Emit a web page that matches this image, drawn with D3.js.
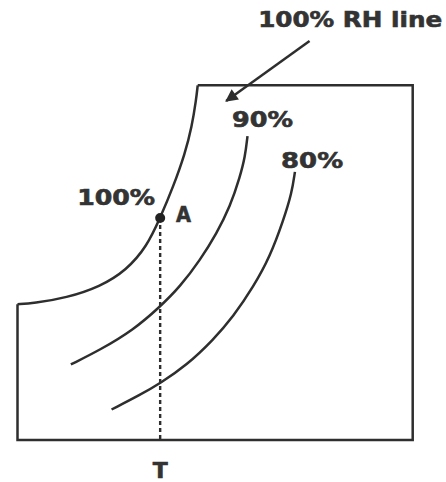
<!DOCTYPE html>
<html>

<head>
    <meta charset="utf-8">
    <title>Psychrometric sketch - dew point</title>
    <script type="text/javascript" src="https://d3js.org/d3.v7.min.js"></script>
    <style>
        body {
            margin: 0;
            background: #fff;
        }
        svg {
            display: block;
        }
    </style>
</head>

<body>
</body>

<script type="text/javascript">
    var w = 446;
    var h = 482;

    // curves, in chart units (0..100 both ways)
    var rh100 = [[0, 38.3], [4.0, 38.5], [12.4, 40.1], [20.9, 43.2], [27.6, 47.9], [32.7, 54.5],
        [36.1, 62.6], [39.4, 71.4], [42.4, 80.8], [44.1, 88.3], [45.2, 95.9], [45.6, 100]];
    var rh90 = [[13.5, 21.3], [20.9, 25.4], [29.3, 31.0], [36.1, 37.6], [41.1, 43.2], [46.2, 50.7],
        [50.4, 58.3], [53.8, 65.8], [56.3, 74.2], [57.6, 79.9], [58.2, 85.7]];
    var rh80 = [[23.8, 8.6], [31.0, 12.7], [36.1, 16.0], [42.8, 21.1], [49.5, 28.2], [54.6, 34.8],
        [59.7, 43.2], [63.9, 51.7], [67.3, 62.0], [69.4, 69.6], [70.2, 75.6]];

    // chart border (left edge meets the 100% line, top edge starts at its end)
    var border = [[45.6, 100], [100, 100], [100, 0], [0, 0], [0, 38.3]];

    var pointA = [36.1, 62.6];
    var arrowFrom = [73.9, 112.5];
    var arrowTo = [52.8, 95.6];

    // labels: text, x, y, anchor, width in px
    var labels = [
        ["100% RH line", 60.9, 116.4, "start", 184],
        ["100%", 15.1, 66.3, "start", 78],
        ["A", 40.1, 61.5, "start", 15],
        ["90%", 54.3, 88.2, "start", 61],
        ["80%", 66.7, 76.7, "start", 62],
        ["T", 36.1, -10.7, "middle", 15]
    ];

    var ink = "#2e2e2e";

    var xScale = d3.scaleLinear().domain([0, 100]).range([17.5, 412.7]);
    var yScale = d3.scaleLinear().domain([0, 100]).range([440, 85.3]);

    var svg = d3.select("body").append("svg").attr("width", w).attr("height", h);

    var curve = d3.line()
        .x(function(d) { return xScale(d[0]); })
        .y(function(d) { return yScale(d[1]); })
        .curve(d3.curveBasis);

    var straight = d3.line()
        .x(function(d) { return xScale(d[0]); })
        .y(function(d) { return yScale(d[1]); });

    svg.append("path")
        .attr("d", straight(border))
        .attr("fill", "none")
        .attr("stroke", ink)
        .attr("stroke-width", 2.5)
        .attr("stroke-linejoin", "miter");

    svg.selectAll("path.rh")
        .data([rh100, rh90, rh80])
        .enter()
        .append("path")
        .attr("class", "rh")
        .attr("d", curve)
        .attr("fill", "none")
        .attr("stroke", ink)
        .attr("stroke-width", 2.5);

    // dashed drop from A to the temperature axis
    svg.append("line")
        .attr("x1", xScale(pointA[0]))
        .attr("y1", yScale(pointA[1]))
        .attr("x2", xScale(pointA[0]))
        .attr("y2", yScale(0))
        .attr("stroke", ink)
        .attr("stroke-width", 2.4)
        .attr("stroke-dasharray", "4,3");

    svg.append("circle")
        .attr("cx", xScale(pointA[0]))
        .attr("cy", yScale(pointA[1]))
        .attr("r", 5)
        .attr("fill", "#222");

    // arrow pointing at the 100% line
    svg.append("defs").append("marker")
        .attr("id", "head")
        .attr("viewBox", "0 0 10 10")
        .attr("refX", 9)
        .attr("refY", 5)
        .attr("markerWidth", 6)
        .attr("markerHeight", 5)
        .attr("markerUnits", "strokeWidth")
        .attr("orient", "auto")
        .append("path")
        .attr("d", "M0,0 L10,5 L0,10 Z")
        .attr("fill", ink);

    svg.append("line")
        .attr("x1", xScale(arrowFrom[0]))
        .attr("y1", yScale(arrowFrom[1]))
        .attr("x2", xScale(arrowTo[0]))
        .attr("y2", yScale(arrowTo[1]))
        .attr("stroke", ink)
        .attr("stroke-width", 2.5)
        .attr("marker-end", "url(#head)");

    svg.selectAll("text")
        .data(labels)
        .enter()
        .append("text")
        .attr("x", function(d) { return xScale(d[1]); })
        .attr("y", function(d) { return yScale(d[2]); })
        .attr("text-anchor", function(d) { return d[3]; })
        .attr("textLength", function(d) { return d[4]; })
        .attr("lengthAdjust", "spacingAndGlyphs")
        .attr("font-family", "DejaVu Sans, Verdana, sans-serif")
        .attr("font-weight", "bold")
        .attr("font-size", 21)
        .attr("fill", "#333")
        .attr("stroke", "#333")
        .attr("stroke-width", 0.6)
        .text(function(d) { return d[0]; });
</script>
</html>
